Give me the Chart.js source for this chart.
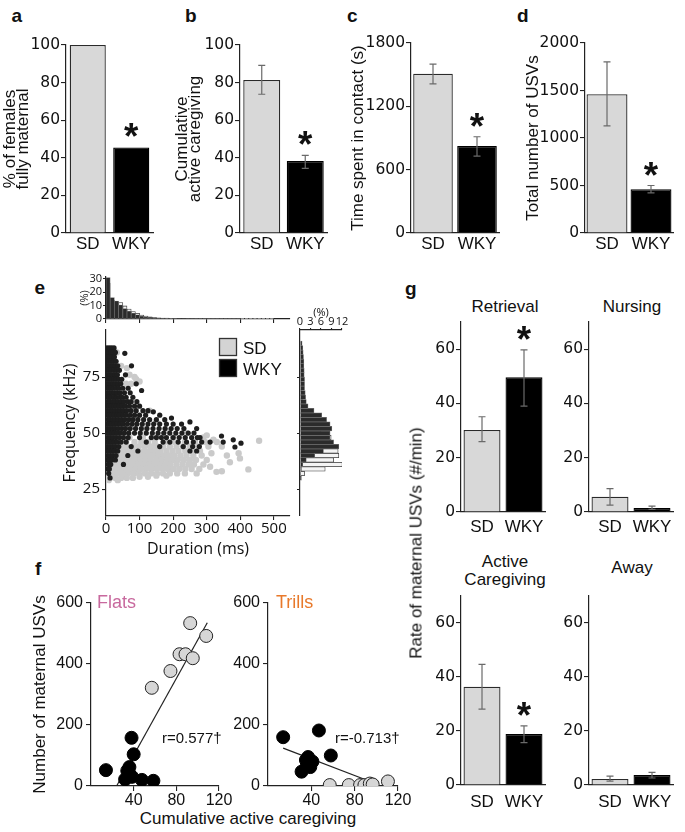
<!DOCTYPE html>
<html><head><meta charset="utf-8">
<script src="https://cdn.jsdelivr.net/npm/chart.js@4.4.1/dist/chart.umd.min.js"></script>
<style>
html,body{margin:0;padding:0;background:#fff}
body{position:relative;width:685px;height:832px;overflow:hidden}
canvas{position:absolute}
.tx{position:absolute;white-space:nowrap;line-height:1;color:#111}
</style></head><body>
<script>
// ================= DATA =================
const groups = ['SD', 'WKY'];

// (a) % of females fully maternal
const fullyMaternalPct = [100, 45.5];
const fullyMaternalSig = [false, true];
// (b) cumulative active caregiving
const cumCaregiving = [81.4, 38.3];
const cumCaregivingErr = [[73.8, 89.2], [34.4, 41.3]];
const cumCaregivingSig = [false, true];
// (c) time spent in contact (s)
const contactTime = [1508, 824];
const contactTimeErr = [[1413, 1600], [729, 912]];
const contactTimeSig = [false, true];
// (d) total number of USVs
const totalUSVs = [1461, 461];
const totalUSVsErr = [[1127, 1802], [422, 500]];
const totalUSVsSig = [false, true];

// (g) rate of maternal USVs (#/min)
const retrievalRate = [30.2, 49.6];
const retrievalErr = [[25.9, 35.1], [39.0, 59.7]];
const retrievalSig = [false, true];
const nursingRate = [5.6, 1.5];
const nursingErr = [[2.5, 8.6], [1.0, 2.2]];
const activeRate = [36.4, 18.9];
const activeErr = [[28.1, 44.7], [15.7, 21.9]];
const activeSig = [false, true];
const awayRate = [2.2, 3.7];
const awayErr = [[1.4, 3.3], [2.6, 4.7]];

// (e) duration histogram (% of calls), 12.5 ms bins
const durBinCenters = [6.25,18.75,31.25,43.75,56.25,68.75,81.25,93.75,106.25,118.75,131.25,143.75,156.25,168.75,181.25,193.75,206.25,218.75,231.25,243.75,256.25,268.75,281.25,293.75,306.25,318.75,331.25,343.75,356.25,368.75,381.25,393.75,406.25,418.75,431.25,443.75,456.25,468.75,481.25,493.75];
const wkyDurPct = [31,16,13.5,10.5,7.8,5.9,4.4,3.2,2.2,1.5,1.2,0.9,0.7,0.5,0.4,0.35,0.3,0.25,0.2,0.2,0.15,0.15,0.1,0.1,0.1,0.1,0.1,0.05,0.05,0.05,0.05,0.05,0,0,0,0,0,0,0,0];
const sdDurPct  = [27,14,12.5,12.3,9.8,7.4,5.6,4.2,2.9,2.2,1.7,1.2,0.9,0.7,0.6,0.5,0.45,0.4,0.35,0.3,0.3,0.25,0.25,0.2,0.2,0.2,0.2,0.15,0.15,0.15,0.15,0.15,0.1,0.1,0.1,0.1,0.1,0.1,0.1,0.1];

// (e) frequency histogram (% of calls), 2 kHz bins
const freqBinCenters = [30,32,34,36,38,40,42,44,46,48,50,52,54,56,58,60,62,64,66,68,70,72,74,76,78,80,82,84,86,88,90];
const wkyFreqPct = [0.1,0.2,0.4,0.8,1.8,4.2,6.7,11.1,9.6,8.6,8.6,9.1,8.6,7.6,6.2,4.0,2.3,1.8,1.6,1.5,1.3,1.3,1.3,1.2,1.2,1.1,1.1,1.0,0.9,0.8,0.6];
const sdFreqPct  = [0.4,1.3,7.2,12.1,9.6,11.1,10.9,9.0,8.5,8.9,6.0,4.0,3.0,2.0,1.5,1.2,0.9,0.8,0.7,0.6,0.5,0.5,0.5,0.4,0.4,0.4,0.3,0.3,0.3,0.3,0.2];

// (e) individual calls [duration ms, frequency kHz]
const wkyCalls = [
[3,88],[10,88],[17,88],[24,88],
[1,86],[7,86],[14,86],[21,86],[28,86],[56,85.6],
[4,84],[11,84],[18,84],[25,84],
[2,82],[8,82],[15,82],[22,82],[30,82],
[5,80],[12,80],[19,80],[27,80],[35,80],[76,80],
[1,78],[8,78],[15,78],[23,78],[31,78],[40,78],
[4,76],[11,76],[18,76],[26,76],[34,76],[58,76],
[2,74],[9,74],[16,74],[23,74],[30,74],[38,74],[47,74],
[5,72],[12,72],[20,72],[28,72],[36,72],[44,72],[90,72],
[1,70],[8,70],[15,70],[22,70],[30,70],[38,70],[50,70],[66,70],[106,69],
[4,68],[11,68],[18,68],[25,68],[33,68],[42,68],[55,68],[72,68],
[2,66],[9,66],[16,66],[24,66],[31,66],[40,66],[48,66],[60,66],[80,66],
[5,64],[12,64],[20,64],[27,64],[35,64],[44,64],[53,64],[65,64],[75,64],[92,64],
[1,62],[8,62],[16,62],[23,62],[31,62],[39,62],[48,62],[58,62],[70,62],[85,62],[100,62],
[4,60],[12,60],[19,60],[27,60],[35,60],[43,60],[52,60],[62,60],[75,60],[90,60],[110,60],[125,60],
[2,58],[9,58],[16,58],[24,58],[32,58],[40,58],[50,58],[60,58],[72,58],[85,58],[100,58],[118,58],[141,59.5],[160,58],
[5,56],[12,56],[20,56],[28,56],[37,56],[46,56],[56,56],[68,56],[80,56],[95,56],[112,56],[130,56],[150,56],[175,56],[195,56.7],
[1,54],[8,54],[16,54],[24,54],[33,54],[42,54],[52,54],[64,54],[78,54],[92,54],[108,54],[125,54],[142,54],[160,54],[180,54],[200,54],[225,54],[250,55],
[4,52],[12,52],[20,52],[28,52],[37,52],[47,52],[58,52],[72,52],[88,52],[105,52],[122,52],[140,52],[158,52],[176,52],[194,52],[212,52],[232,52],[270,52],
[2,50],[9,50],[17,50],[25,50],[34,50],[44,50],[55,50],[68,50],[85,50],[102,50],[120,50],[138,50],[155,50],[172,50],[190,50],[208,50],[226,50],[245,50],[262,50],[280,48],
[5,48],[13,48],[21,48],[30,48],[40,48],[52,48],[66,48],[100,48],[135,48],[150,48],[165,48],[180,48],[200,48],[218,48],[236,48],[255,48],[272,48],[344,48.7],
[1,46],[8,46],[16,46],[24,46],[33,46],[45,46],[60,46],[120,46],[170,46],[190,46],[215,46],[240,46],[260,46],[285,46],[310,46],[349,46],[379,47],[402,45.5],
[4,44],[12,44],[20,44],[28,44],[38,44],[75,44],[160,44],[230,44],[258,44],[278,44],[384,43.8],
[2,42],[9,42],[17,42],[25,42],[35,42],[95,42],[250,42],[270,42],
[5,40],[13,40],[21,40],[30,40],[65,40],
[2,38],[10,38],[18,38],[28,38],[52,36],
[6,36],[14,36],[3,34],[10,34],[8,32],[12,30]
];
const sdCalls = [
[10,86],[32,86],[20,80],[45,80],[62,79],[30,76],[70,76],[85,75],[90,74],[100,73],[60,72],[75,72],
[10,70],[40,70],[25,64],[55,64],[15,60],[45,60],[130,60],[30,56],[90,56],[150,55],
[20,52],[60,52],[110,52],[180,51],[240,50],[300,49],
[8,48],[30,48],[70,48],[110,48],[150,48],[200,48],[290,48],[320,47],
[4,46],[18,46],[40,46],[60,46],[85,46],[105,46],[125,46],[145,46],[175,46],[205,46],[235,46],[265,46],[295,46],[330,46],[456,46.6],
[2,44],[14,44],[28,44],[45,44],[62,44],[80,44],[98,44],[116,44],[134,44],[152,44],[170,44],[190,44],[210,44],[230,44],[250,44],[275,44],[305,44],[345,44],
[6,42],[20,42],[35,42],[50,42],[66,42],[82,42],[98,42],[114,42],[130,42],[146,42],[162,42],[180,42],[198,42],[216,42],[236,42],[256,42],[280,42],[314,41],[395,41],
[3,40],[16,40],[30,40],[45,40],[60,40],[76,40],[92,40],[108,40],[124,40],[140,40],[156,40],[172,40],[188,40],[204,40],[222,40],[240,40],[260,40],[285,40],[360,40],
[8,38],[22,38],[38,38],[54,38],[70,38],[86,38],[102,38],[118,38],[134,38],[150,38],[166,38],[182,38],[198,38],[214,38],[232,38],[250,38],[268,38],[300,38],[399,38.7],
[4,36],[18,36],[32,36],[48,36],[64,36],[80,36],[96,36],[112,36],[128,36],[144,36],[160,36],[176,36],[192,36],[210,36],[228,36],[246,36],[262,36],[290,36],[310,35],[369,37],
[10,34],[25,34],[40,34],[56,34],[72,34],[88,34],[104,34],[120,34],[136,34],[152,34],[168,34],[184,34],[200,34],[218,34],[236,34],[255,34],[278,34],[345,33],[424,33.8],
[6,32],[20,32],[35,32],[50,32],[66,32],[82,32],[98,32],[116,32],[134,32],[152,32],[170,32],[190,32],[212,32],[235,32],[270,32],[329,32.7],
[12,30],[28,30],[45,30],[62,30],[80,30],[100,30.5],[125,30.5],[150,31],[180,31],[8,29],[35,29]
];

// (f) cumulative active caregiving vs number of maternal USVs
const flatsSD  = [[57,322],[74.5,377],[83,432],[88.6,432],[93,534],[95.4,419],[108,492]];
const flatsWKY = [[14,52],[38,158],[40,104],[36,62],[36,40],[32,22],[38.4,30],[47.7,20],[58.5,17],[34,50]];
const flatsFit = [[24,0],[109,535]];
const trillsSD  = [[57,3],[74.6,3],[85,3],[89,3],[94,8],[96.6,5],[110.7,15]];
const trillsWKY = [[14,160],[47,182],[58,100],[37,95],[31,47],[41,80],[36,70],[39,62],[35,85],[38,75]];
const trillsFit = [[14,124],[95,14]];

// ================= STYLE =================
const SANS = '"Liberation Sans", Arial, sans-serif';
const DEJA = '"DejaVu Sans", Verdana, sans-serif';
const OPEN = '"Open Sans", sans-serif';
const SD_FILL = '#d8d8d8', WKY_FILL = '#000000', EDGE = '#2a2a2a';

// ================= HELPERS =================
function place(area, m) {
  const left = area.L - m.l, top = area.T - m.t;
  const w = Math.round(area.R - area.L + m.l + m.r), h = Math.round(area.B - area.T + m.t + m.b);
  const c = document.createElement('canvas');
  c.width = w; c.height = h;
  c.style.left = left + 'px'; c.style.top = top + 'px';
  c.style.width = w + 'px'; c.style.height = h + 'px';
  document.body.appendChild(c);
  return c;
}
function zeroPad(s) { s.paddingLeft = 0; s.paddingRight = 0; s.paddingTop = 0; s.paddingBottom = 0; }
function linAxis(o) {
  const horiz = o.position === 'bottom' || o.position === 'top';
  return {
    type: 'linear', position: o.position, min: o.min, max: o.max, offset: false,
    afterBuildTicks: s => { s.ticks = o.ticks.map(v => ({ value: v })); },
    afterFit: s => { if (horiz) s.height = o.size; else s.width = o.size; zeroPad(s); },
    grid: { display: true, offset: false, drawOnChartArea: false, drawTicks: o.tl > 0, tickLength: o.tl || 0, color: '#222', lineWidth: 1.1 },
    border: { display: true, color: '#222', width: 1.2 },
    ticks: { display: !!o.font, font: o.font, color: '#111', padding: o.pad ?? 1, autoSkip: false, maxRotation: 0, minRotation: 0,
      callback: v => String(v) },
    title: o.title ? { display: true, text: o.title, font: o.titleFont, color: '#111', padding: o.titlePad } : { display: false }
  };
}
function catAxis(o) {
  return {
    type: 'category', position: 'bottom', offset: true,
    afterFit: s => { s.height = o.size; zeroPad(s); },
    grid: { display: true, drawOnChartArea: false, drawTicks: false, offset: true },
    border: { display: true, color: '#222', width: 1.2 },
    ticks: { font: o.font, color: '#111', padding: o.pad, autoSkip: false, maxRotation: 0 }
  };
}
function opts(m, scales, plugins, topAxis) {
  return {
    animation: false, responsive: false, maintainAspectRatio: false, events: [],
    layout: { autoPadding: false, padding: { left: 0, right: m.r, top: topAxis ? 0 : m.t, bottom: topAxis ? m.b : 0 } },
    plugins: Object.assign({ legend: { display: false }, tooltip: { enabled: false }, title: { display: false } }, plugins || {}),
    scales
  };
}
function drawStar(ctx, cx, cy) {
  ctx.save();
  ctx.font = 'bold 100px ' + SANS;
  const m = ctx.measureText('*');
  const h = m.actualBoundingBoxAscent + m.actualBoundingBoxDescent;
  const size = 100 * 14 / h;
  ctx.font = 'bold ' + size + 'px ' + SANS;
  const m2 = ctx.measureText('*');
  ctx.textAlign = 'center'; ctx.textBaseline = 'alphabetic'; ctx.fillStyle = '#111';
  ctx.fillText('*', cx, cy + (m2.actualBoundingBoxAscent - m2.actualBoundingBoxDescent) / 2);
  ctx.restore();
}
const errorBarPlugin = {
  id: 'errorBars',
  afterDatasetsDraw(chart) {
    const ctx = chart.ctx, ys = chart.scales.y;
    chart.data.datasets.forEach((ds, di) => {
      chart.getDatasetMeta(di).data.forEach((bar, j) => {
        const e = ds.errorBars && ds.errorBars[j];
        if (e) {
          const yl = ys.getPixelForValue(e[0]), yh = ys.getPixelForValue(e[1]);
          ctx.save(); ctx.strokeStyle = '#6a6a6a'; ctx.lineWidth = 1.2; ctx.beginPath();
          ctx.moveTo(bar.x, yl); ctx.lineTo(bar.x, yh);
          ctx.moveTo(bar.x - 3.5, yl); ctx.lineTo(bar.x + 3.5, yl);
          ctx.moveTo(bar.x - 3.5, yh); ctx.lineTo(bar.x + 3.5, yh);
          ctx.stroke(); ctx.restore();
        }
        if (ds.significant && ds.significant[j]) {
          const top = e ? ys.getPixelForValue(e[1]) : bar.y;
          drawStar(ctx, bar.x, top - 17);
        }
      });
    });
  }
};
const boxLegendPlugin = {
  id: 'boxLegend',
  afterDraw(chart, args, o) {
    if (!o || !o.items) return;
    const ctx = chart.ctx, { left, top } = chart.chartArea;
    o.items.forEach((it, i) => {
      const x = left + o.x, y = top + o.y + i * o.dy;
      ctx.save();
      ctx.fillStyle = it.fill; ctx.fillRect(x, y, o.w, o.h);
      ctx.strokeStyle = '#333'; ctx.lineWidth = 1.3; ctx.strokeRect(x + 0.5, y + 0.5, o.w - 1, o.h - 1);
      ctx.fillStyle = '#111'; ctx.font = o.font; ctx.textBaseline = 'alphabetic';
      ctx.fillText(it.text, x + o.w + 6, y + o.h - 2);
      ctx.restore();
    });
  }
};
function barPanel(area, m, cfg) {
  const c = place(area, m);
  new Chart(c, {
    type: 'bar',
    data: { labels: groups, datasets: [{
      data: cfg.values, errorBars: cfg.err, significant: cfg.sig,
      backgroundColor: [SD_FILL, WKY_FILL], borderColor: [EDGE, WKY_FILL], borderWidth: 1.3,
      barPercentage: cfg.barPct, categoryPercentage: 1 }] },
    options: opts(m, {
      x: catAxis({ size: m.b, font: { family: SANS, size: 17 }, pad: cfg.xPad }),
      y: linAxis({ position: 'left', size: m.l, min: 0, max: cfg.max, ticks: cfg.ticks, tl: 5, pad: 1,
        font: { family: DEJA, size: 15.5 }, title: cfg.title,
        titleFont: { family: SANS, size: 17, lineHeight: 0.8 }, titlePad: { top: cfg.titlePad || 0, bottom: 0 } })
    }),
    plugins: [errorBarPlugin]
  });
}
function addText(text, x, baseline, size, o = {}) {
  const d = document.createElement('div');
  d.className = 'tx'; d.textContent = text;
  d.style.fontFamily = o.family || SANS; d.style.fontSize = size + 'px';
  d.style.fontWeight = o.weight || 'normal'; if (o.color) d.style.color = o.color;
  d.style.left = x + 'px'; d.style.top = (baseline - 0.8465 * size) + 'px';
  if (o.align === 'center') d.style.transform = 'translateX(-50%)';
  document.body.appendChild(d);
}
function addRotText(text, cx, cy, size) {
  const d = document.createElement('div');
  d.className = 'tx'; d.textContent = text;
  d.style.fontFamily = SANS; d.style.fontSize = size + 'px';
  d.style.left = cx + 'px'; d.style.top = cy + 'px';
  d.style.transform = 'translate(-50%,-50%) rotate(-90deg)';
  document.body.appendChild(d);
}

// ================= PANELS a-d =================
barPanel({ L: 66, T: 45, R: 153, B: 233 }, { l: 66, t: 12, r: 6, b: 40 },
  { values: fullyMaternalPct, err: null, sig: fullyMaternalSig, max: 100, ticks: [0, 20, 40, 60, 80, 100],
    title: ['% of females', 'fully maternal'], titlePad: 3.2, barPct: 0.83, xPad: 1 });
barPanel({ L: 240, T: 45, R: 327, B: 233 }, { l: 65, t: 12, r: 6, b: 40 },
  { values: cumCaregiving, err: cumCaregivingErr, sig: cumCaregivingSig, max: 100, ticks: [0, 20, 40, 60, 80, 100],
    title: ['Cumulative', 'active caregiving'], titlePad: 0.2, barPct: 0.85, xPad: 1 });
barPanel({ L: 411, T: 43, R: 499, B: 233 }, { l: 60, t: 12, r: 6, b: 40 },
  { values: contactTime, err: contactTimeErr, sig: contactTimeSig, max: 1800, ticks: [0, 600, 1200, 1800],
    title: 'Time spent in contact (s)', titlePad: 0.2, barPct: 0.9, xPad: 1 });
barPanel({ L: 585, T: 43, R: 673, B: 233 }, { l: 59, t: 12, r: 6, b: 40 },
  { values: totalUSVs, err: totalUSVsErr, sig: totalUSVsSig, max: 2000, ticks: [0, 500, 1000, 1500, 2000],
    title: 'Total number of USVs', titlePad: 0.2, barPct: 0.93, xPad: 1 });

// ================= PANEL g =================
barPanel({ L: 461, T: 322, R: 545, B: 512 }, { l: 35, t: 6, r: 4, b: 30 },
  { values: retrievalRate, err: retrievalErr, sig: retrievalSig, max: 70, ticks: [0, 20, 40, 60], barPct: 0.88, xPad: 5 });
barPanel({ L: 589, T: 322, R: 673, B: 512 }, { l: 35, t: 6, r: 4, b: 30 },
  { values: nursingRate, err: nursingErr, sig: [false, false], max: 70, ticks: [0, 20, 40, 60], barPct: 0.88, xPad: 5 });
barPanel({ L: 461, T: 596, R: 545, B: 785 }, { l: 35, t: 6, r: 4, b: 30 },
  { values: activeRate, err: activeErr, sig: activeSig, max: 70, ticks: [0, 20, 40, 60], barPct: 0.88, xPad: 7 });
barPanel({ L: 589, T: 596, R: 673, B: 785 }, { l: 35, t: 6, r: 4, b: 30 },
  { values: awayRate, err: awayErr, sig: [false, false], max: 70, ticks: [0, 20, 40, 60], barPct: 0.88, xPad: 7 });

// ================= PANEL e =================
(function () {
  // scatter
  const m = { l: 50, t: 5, r: 4, b: 45 };
  const c = place({ L: 106, T: 330, R: 290, B: 516 }, m);
  new Chart(c, {
    type: 'scatter',
    data: { datasets: [
      { label: 'WKY', data: wkyCalls.map(p => ({ x: p[0], y: p[1] })), pointRadius: 2.6, backgroundColor: '#1e1e1e', borderWidth: 0, order: 0 },
      { label: 'SD', data: sdCalls.map(p => ({ x: p[0], y: p[1] })), pointRadius: 3.2, backgroundColor: '#cacaca', borderWidth: 0, order: 1 }
    ] },
    options: opts(m, {
      x: linAxis({ position: 'bottom', size: m.b, min: 0, max: 548, ticks: [0, 100, 200, 300, 400, 500], tl: 4, pad: 0,
        font: { family: OPEN, size: 15 }, title: 'Duration (ms)', titleFont: { family: OPEN, size: 16 }, titlePad: { top: 0, bottom: 2.4 } }),
      y: linAxis({ position: 'left', size: m.l, min: 13, max: 96, ticks: [25, 50, 75], tl: 4, pad: 2,
        font: { family: OPEN, size: 15 }, title: 'Frequency (kHz)', titleFont: { family: OPEN, size: 16 }, titlePad: { top: 4.4, bottom: 0 } })
    }, { boxLegend: { x: 113, y: 8, dy: 21, w: 18, h: 18, font: '17px ' + SANS,
      items: [{ text: 'SD', fill: '#d4d4d4' }, { text: 'WKY', fill: '#000' }] } }),
    plugins: [boxLegendPlugin]
  });
  // top histogram (duration)
  const m2 = { l: 28, t: 4, r: 4, b: 5 };
  const c2 = place({ L: 106, T: 277, R: 290, B: 319 }, m2);
  new Chart(c2, {
    type: 'bar',
    data: { datasets: [
      { label: 'WKY', data: durBinCenters.map((x, i) => ({ x, y: wkyDurPct[i] })), backgroundColor: '#2b2b2b', borderColor: '#707070', borderWidth: 0.7, barPercentage: 1, categoryPercentage: 1, grouped: false, order: 0 },
      { label: 'SD', data: durBinCenters.map((x, i) => ({ x, y: sdDurPct[i] })), backgroundColor: '#f4f4f4', borderColor: '#3a3a3a', borderWidth: 0.8, barPercentage: 1, categoryPercentage: 1, grouped: false, order: 1 }
    ] },
    options: opts(m2, {
      x: linAxis({ position: 'bottom', size: m2.b, min: 0, max: 548, ticks: [0, 100, 200, 300, 400, 500], tl: 4 }),
      y: linAxis({ position: 'left', size: m2.l, min: 0, max: 31.5, ticks: [0, 10, 20, 30], tl: 3, pad: 1,
        font: { family: OPEN, size: 11 }, title: '(%)', titleFont: { family: OPEN, size: 11 }, titlePad: { top: 0.4, bottom: 0 } })
    })
  });
  // right histogram (frequency)
  const m3 = { l: 6, t: 25, r: 6, b: 4 };
  const c3 = place({ L: 300, T: 330, R: 342, B: 516 }, m3);
  new Chart(c3, {
    type: 'bar',
    data: { datasets: [
      { label: 'WKY', data: freqBinCenters.map((y, i) => ({ x: wkyFreqPct[i], y })), backgroundColor: '#2b2b2b', borderColor: '#707070', borderWidth: 0.7, barPercentage: 1, categoryPercentage: 1, grouped: false, order: 0 },
      { label: 'SD', data: freqBinCenters.map((y, i) => ({ x: sdFreqPct[i], y })), backgroundColor: '#f4f4f4', borderColor: '#3a3a3a', borderWidth: 0.8, barPercentage: 1, categoryPercentage: 1, grouped: false, order: 1 }
    ] },
    options: Object.assign(opts(m3, {
      x: linAxis({ position: 'top', size: m3.t, min: 0, max: 12, ticks: [0, 3, 6, 9, 12], tl: 2, pad: 0,
        font: { family: OPEN, size: 11 }, title: '(%)', titleFont: { family: OPEN, size: 11 }, titlePad: { top: 1.4, bottom: 0 } }),
      y: linAxis({ position: 'left', size: m3.l, min: 13, max: 96, ticks: [25, 50, 75], tl: 3 })
    }, null, true), { indexAxis: 'y' })
  });
})();

// ================= PANEL f =================
function fPanel(area, m, sd, wky, fit, withTitle) {
  const c = place(area, m);
  new Chart(c, {
    type: 'scatter',
    data: { datasets: [
      { type: 'line', data: fit.map(p => ({ x: p[0], y: p[1] })), showLine: true, pointRadius: 0, borderColor: '#222', borderWidth: 1.2, fill: false, order: 2 },
      { label: 'WKY', data: wky.map(p => ({ x: p[0], y: p[1] })), pointRadius: 6.5, backgroundColor: '#000', borderColor: '#000', borderWidth: 1, order: 0 },
      { label: 'SD', data: sd.map(p => ({ x: p[0], y: p[1] })), pointRadius: 6.5, backgroundColor: '#d6d6d6', borderColor: '#222', borderWidth: 1, order: 1 }
    ] },
    options: opts(m, {
      x: linAxis({ position: 'bottom', size: m.b, min: 0, max: 120, ticks: [40, 80, 120], tl: 5, pad: 0, font: { family: SANS, size: 16 } }),
      y: linAxis({ position: 'left', size: m.l, min: 0, max: 600, ticks: [0, 200, 400, 600], tl: 5, pad: 3, font: { family: SANS, size: 16 },
        title: withTitle ? 'Number of maternal USVs' : null, titleFont: { family: SANS, size: 17 }, titlePad: { top: 4.8, bottom: 0 } })
    })
  });
}
fPanel({ L: 91, T: 603, R: 219, B: 786 }, { l: 66, t: 8, r: 16, b: 22 }, flatsSD, flatsWKY, flatsFit, true);
fPanel({ L: 268, T: 603, R: 398, B: 786 }, { l: 40, t: 8, r: 16, b: 22 }, trillsSD, trillsWKY, trillsFit, false);

// ================= TEXT =================
const L = { weight: 'bold' };
addText('a', 11.5, 21.7, 19, L);
addText('b', 185, 21.7, 19, L);
addText('c', 347, 21.7, 19, L);
addText('d', 517, 21.7, 19, L);
addText('e', 34.5, 294, 19, L);
addText('f', 35, 575, 19, L);
addText('g', 405, 295, 19, L);
addText('Retrieval', 505, 312, 17, { align: 'center' });
addText('Nursing', 632, 312, 17, { align: 'center' });
addText('Active', 505, 567, 17, { align: 'center' });
addText('Caregiving', 505, 585, 17, { align: 'center' });
addText('Away', 632, 573, 17, { align: 'center' });
addText('Flats', 97, 608, 18, { color: '#c8699e' });
addText('Trills', 276, 608, 18, { color: '#e8792b' });
addText('r=0.577†', 162, 743, 15);
addText('r=-0.713†', 335, 743, 15);
addText('Cumulative active caregiving', 248, 824, 17, { align: 'center' });
addRotText('Rate of maternal USVs (#/min)', 416, 543, 17);
</script>
</body></html>
